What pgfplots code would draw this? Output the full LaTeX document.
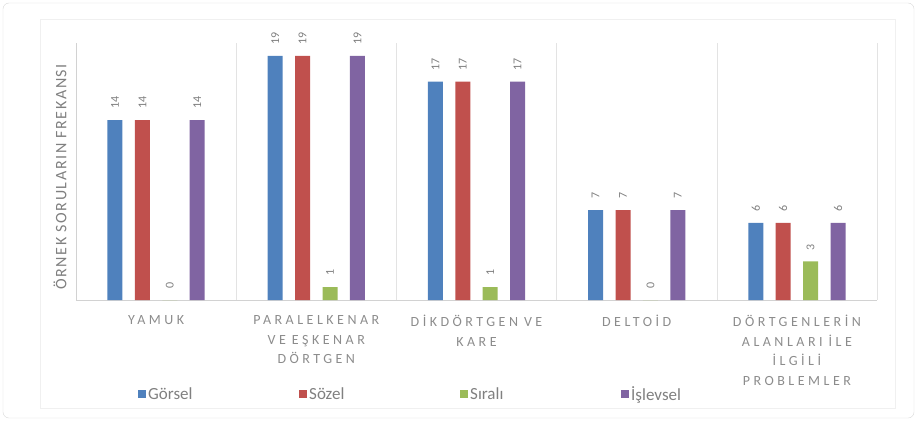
\documentclass[border=0pt]{standalone}
\usepackage{fontspec}
\setmainfont{Carlito}
\newfontfamily\spaced[LetterSpace=25]{Carlito}
\newfontfamily\yfont[LetterSpace=10]{Carlito}
\newcommand{\wsp}{\hspace{6pt}}
\usepackage{pgfplots}
\pgfplotsset{compat=1.18}
\definecolor{cBlue}{HTML}{4F81BD}
\definecolor{cRed}{HTML}{C0504D}
\definecolor{cGreen}{HTML}{9BBB59}
\definecolor{cPurple}{HTML}{8064A2}
\definecolor{txt}{HTML}{808080}
\definecolor{ltxt}{HTML}{8C8C8C}
\begin{document}
\begin{tikzpicture}
\useasboundingbox (-76pt,-121pt) rectangle (841pt,300pt);
\draw[gray!30, rounded corners=6pt] (-73pt,-118pt) rectangle (838pt,297pt);
\draw[gray!12] (-36pt,-108pt) rectangle (819pt,281pt);
\begin{axis}[
  scale only axis, width=801pt, height=257pt,
  ymin=0, ymax=20, xmin=-0.5, xmax=4.5,
  ybar=12.4pt, bar width=15pt,
  axis x line*=bottom, axis y line*=left,
  axis line style={-, draw=gray!35},
  ytick=\empty,
  xtick={0,1,2,3,4},
  minor xtick={-0.5,0.5,1.5,2.5,3.5,4.5},
  xminorgrids=true, minor grid style={draw=gray!22},
  major tick length=0pt, minor tick length=0pt,
  /pgf/number format/assume math mode=true,
  xticklabels={YAMUK,{PARALELKENAR\\VE\wsp EŞKENAR\\DÖRTGEN},{DİKDÖRTGEN\wsp VE\\KARE},DELTOİD,{DÖRTGENLERİN\\ALANLARI\wsp İLE\\İLGİLİ\\PROBLEMLER}},
  xticklabel style={font=\spaced\fontsize{14}{19.5}\selectfont, text=ltxt, align=center, text width=158pt, yshift=-12pt},
  ylabel={ÖRNEK SORULARIN FREKANSI},
  every axis y label/.style={at={(axis description cs:-0.02,0.479)}, anchor=center, rotate=90, font=\yfont\fontsize{16}{18}\selectfont, text=txt},
  nodes near coords,
  nodes near coords style={rotate=90, anchor=west, inner xsep=11pt, inner ysep=0pt, font=\fontsize{12}{13}\selectfont, text=txt},
  legend columns=4,
  legend image code/.code={\fill[#1, draw=none] (0pt,-4pt) rectangle (8pt,4pt);},
  legend style={draw=none, fill=none, inner sep=0pt, font=\fontsize{17}{20}\selectfont, text=txt,
    at={(axis description cs:0,0)}, anchor=west, xshift=62pt, yshift=-94pt,
    nodes={text width=149pt, align=left, inner xsep=2pt}},
]
\addplot[fill=cBlue, draw=none] coordinates {(0,14) (1,19) (2,17) (3,7) (4,6)};
\addplot[fill=cRed, draw=none] coordinates {(0,14) (1,19) (2,17) (3,7) (4,6)};
\addplot[fill=cGreen, draw=none] coordinates {(0,0) (1,1) (2,1) (3,0) (4,3)};
\addplot[fill=cPurple, draw=none] coordinates {(0,14) (1,19) (2,17) (3,7) (4,6)};
\legend{Görsel,Sözel,Sıralı,İşlevsel}
\end{axis}
\end{tikzpicture}
\end{document}
